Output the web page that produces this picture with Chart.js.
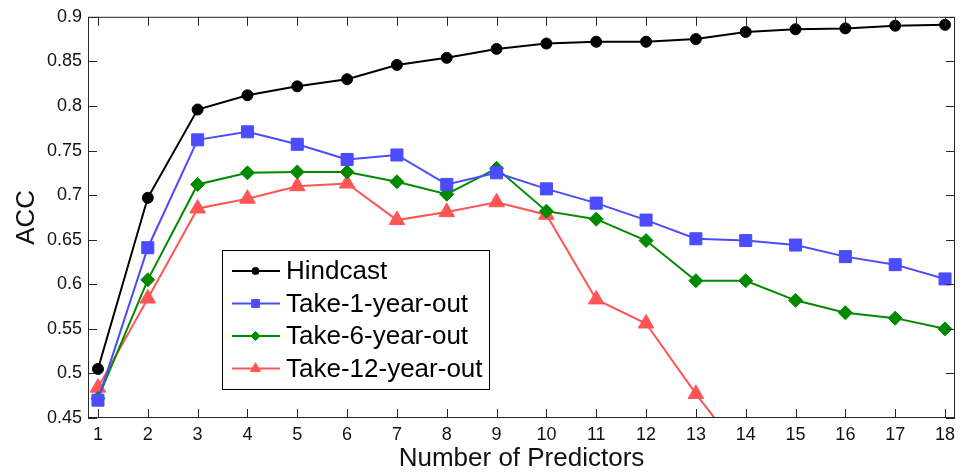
<!DOCTYPE html>
<html>
<head>
<meta charset="utf-8">
<script src="https://cdn.jsdelivr.net/npm/chart.js@4.4.0/dist/chart.umd.min.js"></script>
<style>
html, body { margin: 0; padding: 0; background: #fff; }
#wrap { width: 965px; height: 475px; }
</style>
</head>
<body>
<div id="wrap"><canvas id="accChart" width="965" height="475"></canvas></div>
<script>
// values
var predictors = [1, 2, 3, 4, 5, 6, 7, 8, 9, 10, 11, 12, 13, 14, 15, 16, 17, 18];
var hindcast = [0.505, 0.697, 0.796, 0.812, 0.822, 0.830, 0.846, 0.854, 0.864, 0.870, 0.872, 0.872, 0.875, 0.883, 0.886, 0.887, 0.890, 0.891];
var take1 = [0.470, 0.641, 0.762, 0.771, 0.757, 0.740, 0.745, 0.712, 0.725, 0.707, 0.691, 0.672, 0.651, 0.649, 0.644, 0.631, 0.622, 0.606];
var take6 = [0.472, 0.605, 0.712, 0.725, 0.726, 0.726, 0.715, 0.701, 0.730, 0.682, 0.673, 0.649, 0.604, 0.604, 0.582, 0.568, 0.562, 0.550];
var take12 = [0.484, 0.584, 0.685, 0.696, 0.710, 0.713, 0.672, 0.681, 0.692, 0.678, 0.583, 0.556, 0.477, 0.405, null, null, null, null];
var yTicks = [0.45, 0.5, 0.55, 0.6, 0.65, 0.7, 0.75, 0.8, 0.85, 0.9];
var seriesNames = ['Hindcast', 'Take-1-year-out', 'Take-6-year-out', 'Take-12-year-out'];

var FONT = '"Liberation Sans", Arial, sans-serif';

function makeSet(label, data, color, style, radius) {
    return {
        label: label,
        data: data,
        borderColor: color,
        backgroundColor: color,
        borderWidth: 2,
        pointStyle: style,
        pointRadius: radius,
        pointHoverRadius: radius,
        pointBorderWidth: 1,
        pointBorderColor: color,
        pointBackgroundColor: color,
        tension: 0,
        spanGaps: false
    };
}

// box, inward ticks and the legend, MATLAB style
var framePlugin = {
    id: 'frame',
    afterDatasetsDraw: function (chart) {
        var ctx = chart.ctx;
        var a = chart.chartArea;
        var xs = chart.scales.x, ys = chart.scales.y;
        ctx.save();
        ctx.strokeStyle = '#262626';
        ctx.lineWidth = 1;
        ctx.strokeRect(a.left + 0.5, a.top + 0.5, a.right - a.left - 1, a.bottom - a.top - 1);
        ctx.beginPath();
        predictors.forEach(function (v) {
            var px = Math.round(xs.getPixelForValue(v)) + 0.5;
            ctx.moveTo(px, a.bottom); ctx.lineTo(px, a.bottom - 9);
            ctx.moveTo(px, a.top); ctx.lineTo(px, a.top + 9);
        });
        yTicks.forEach(function (v) {
            var py = Math.round(ys.getPixelForValue(v)) + 0.5;
            ctx.moveTo(a.left, py); ctx.lineTo(a.left + 9, py);
            ctx.moveTo(a.right, py); ctx.lineTo(a.right - 9, py);
        });
        ctx.stroke();

        // legend
        var lx = 222.5, ly = 250.5, lw = 267, lh = 139;
        ctx.fillStyle = '#fff';
        ctx.fillRect(lx, ly, lw, lh);
        ctx.strokeStyle = '#000';
        ctx.strokeRect(lx, ly, lw, lh);
        ctx.font = '26px ' + FONT;
        ctx.textBaseline = 'middle';
        ctx.textAlign = 'left';
        chart.data.datasets.forEach(function (ds, i) {
            var cy = 271 + i * 32.5;
            ctx.strokeStyle = ds.borderColor;
            ctx.lineWidth = 2;
            ctx.beginPath();
            ctx.moveTo(232, cy); ctx.lineTo(280, cy);
            ctx.stroke();
            ctx.fillStyle = ds.backgroundColor;
            ctx.lineWidth = 1;
            Chart.helpers.drawPoint(ctx, { pointStyle: ds.pointStyle, radius: ds.pointRadius * 0.65, rotation: 0, borderWidth: 1 }, 255.5, cy);
            ctx.fillStyle = '#000';
            ctx.fillText(ds.label, 286, cy + 1);
        });
        ctx.restore();
    }
};

var chart = new Chart(document.getElementById('accChart'), {
    type: 'line',
    data: {
        labels: predictors,
        datasets: [
            makeSet(seriesNames[0], hindcast, '#000000', 'circle', 5.5),
            makeSet(seriesNames[1], take1, '#4b4bff', 'rect', 8.5),
            makeSet(seriesNames[2], take6, '#008a00', 'rectRot', 7),
            makeSet(seriesNames[3], take12, '#ff5555', 'triangle', 9)
        ]
    },
    options: {
        responsive: false,
        animation: false,
        events: [],
        layout: { padding: { left: 0, top: 14, right: 4, bottom: 0 } },
        plugins: {
            legend: { display: false },
            tooltip: { enabled: false }
        },
        scales: {
            x: {
                type: 'linear',
                min: 0.8,
                max: 18.2,
                afterBuildTicks: function (scale) {
                    scale.ticks = predictors.map(function (v) { return { value: v }; });
                },
                afterFit: function (scale) { scale.height = 57; },
                grid: { display: false, drawTicks: false },
                border: { display: false },
                ticks: {
                    autoSkip: false,
                    maxRotation: 0,
                    padding: 6,
                    color: '#111',
                    font: { family: FONT, size: 18 }
                },
                title: {
                    display: true,
                    text: 'Number of Predictors',
                    color: '#111',
                    font: { family: FONT, size: 26 },
                    padding: { top: 0, bottom: 1 }
                }
            },
            y: {
                min: 0.45,
                max: 0.9,
                afterBuildTicks: function (scale) {
                    scale.ticks = yTicks.map(function (v) { return { value: v }; });
                },
                afterFit: function (scale) { scale.width = 88; },
                grid: { display: false, drawTicks: false },
                border: { display: false },
                ticks: {
                    padding: 6,
                    color: '#111',
                    font: { family: FONT, size: 18 },
                    callback: function (v) { return String(Number(v.toFixed(2))); }
                },
                title: {
                    display: true,
                    text: 'ACC',
                    color: '#111',
                    font: { family: FONT, size: 26 },
                    padding: { top: 11, bottom: 0 }
                }
            }
        }
    },
    plugins: [framePlugin]
});
</script>
</body>
</html>
